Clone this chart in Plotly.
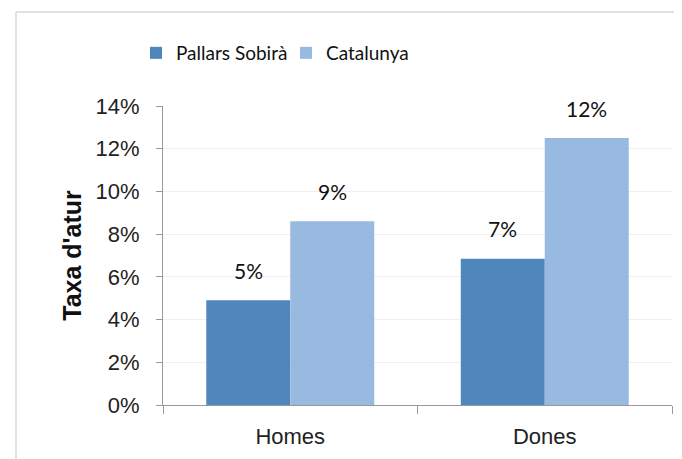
import plotly.graph_objects as go

categories = ["Homes", "Dones"]
pallars = [0.049, 0.0685]
catalunya = [0.086, 0.125]
pallars_labels = ["5%", "7%"]
catalunya_labels = ["9%", "12%"]
y_ticks = [0, 0.02, 0.04, 0.06, 0.08, 0.10, 0.12, 0.14]
y_tick_labels = ["0%", "2%", "4%", "6%", "8%", "10%", "12%", "14%"]

c1 = "#4F87BC"
c2 = "#98B9E0"

fig = go.Figure()
fig.add_trace(go.Bar(name="Pallars Sobirà", x=categories, y=pallars, marker_color=c1,
                     marker_line_width=0, offsetgroup=0))
fig.add_trace(go.Bar(name="Catalunya", x=categories, y=catalunya, marker_color=c2,
                     marker_line_width=0, offsetgroup=1))

label_font = dict(family="Lato", size=21, color="#111")
for i, cat in enumerate(categories):
    fig.add_annotation(x=cat, y=pallars[i], text=pallars_labels[i], showarrow=False,
                       xshift=-42, yshift=30, font=label_font)
    fig.add_annotation(x=cat, y=catalunya[i], text=catalunya_labels[i], showarrow=False,
                       xshift=42, yshift=30, font=label_font)

tick_font = dict(family="Liberation Sans", size=22, color="#222")

# page body has an 8px default margin, so figure coords = window coords - 8
L, T, PW, PH = 155, 98, 509, 299
W, H = 682, 459

fig.update_layout(
    width=W, height=H,
    margin=dict(l=L, r=W - L - PW, t=T, b=H - T - PH, autoexpand=False),
    paper_bgcolor="white", plot_bgcolor="white",
    barmode="group", bargap=0.34, bargroupgap=0,
    showlegend=True,
    legend=dict(orientation="h", x=(136 - 8) / W, xref="container", xanchor="left",
                y=1 - (53 - 8) / H, yref="container", yanchor="middle",
                font=dict(family="Lato", size=19, color="#111"),
                itemwidth=30, entrywidth=105, entrywidthmode="pixels",
                traceorder="normal"),
    xaxis=dict(showline=True, linecolor="#999", linewidth=1, ticks="outside",
               tickson="boundaries", ticklen=8, tickcolor="#999", ticklabelstandoff=12,
               tickfont=tick_font, showgrid=False, automargin=False),
    yaxis=dict(range=[0, 0.14], tickvals=y_ticks, ticktext=y_tick_labels,
               showline=True, linecolor="#999", linewidth=1, ticks="outside",
               ticklen=6, tickcolor="#999", ticklabelstandoff=12,
               showgrid=True, gridcolor="#efefef", zeroline=False,
               tickfont=tick_font, automargin=False,
               title=dict(text="<b>Taxa d'atur</b>", standoff=6,
                          font=dict(family="Liberation Sans", size=25, color="#111"))),
)

# outer chart border (top and left)
bx, by = 16 - 8, 12 - 8
fig.add_shape(type="line", xref="paper", yref="paper",
              x0=(bx - L) / PW, x1=(W + 10 - L) / PW,
              y0=(T + PH - by) / PH, y1=(T + PH - by) / PH,
              line=dict(color="#d9d9d9", width=1.5))
fig.add_shape(type="line", xref="paper", yref="paper",
              x0=(bx - L) / PW, x1=(bx - L) / PW,
              y0=(T + PH - by) / PH, y1=(T + PH - H - 10) / PH,
              line=dict(color="#d9d9d9", width=1.5))

fig.write_html("out.html")
